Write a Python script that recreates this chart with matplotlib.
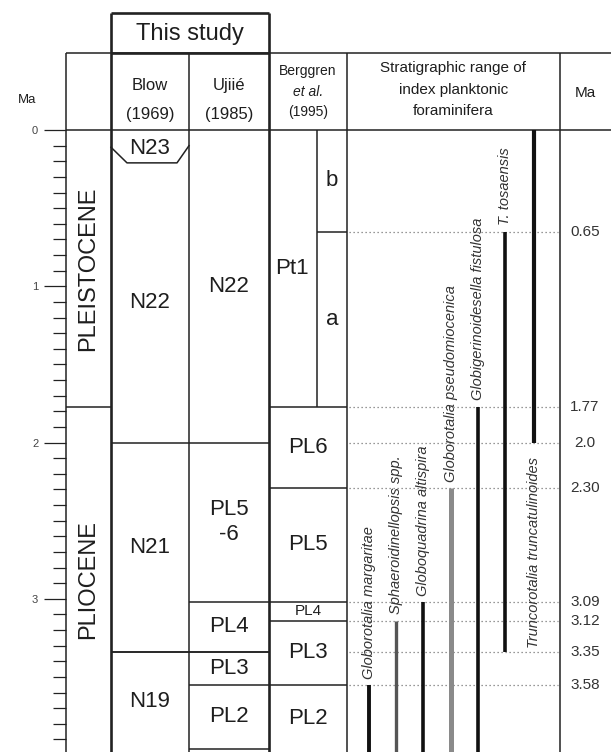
import matplotlib
matplotlib.use('Agg')
import matplotlib.pyplot as plt
import numpy as np

plt.rcParams['font.family'] = ['Liberation Sans', 'DejaVu Sans']

# ---------------- data (ages in Ma, as drawn) ----------------
epochs = ['PLEISTOCENE', 'PLIOCENE']
epoch_bounds = [0.0, 1.77, 3.98]

blow_zones = ['N23', 'N22', 'N21', 'N19']
blow_bounds = [0.0, 0.21, 2.0, 3.34, 3.98]

ujiie_zones = ['N22', 'PL5\n-6', 'PL4', 'PL3', 'PL2']
ujiie_bounds = [0.0, 2.0, 3.02, 3.34, 3.55, 3.96]

berggren_zones = ['Pt1', 'PL6', 'PL5', 'PL4', 'PL3', 'PL2']
berggren_bounds = [0.0, 1.77, 2.29, 3.02, 3.14, 3.55, 3.98]

pt1_subzones = ['b', 'a']
pt1_sub_bounds = [0.0, 0.65, 1.77]

species = ['Globorotalia margaritae', 'Sphaeroidinellopsis spp.',
           'Globoquadrina altispira', 'Globorotalia pseudomiocenica',
           'Globigerinoidesella fistulosa', 'T. tosaensis',
           'Truncorotalia truncatulinoides']
species_top = [3.55, 3.14, 3.02, 2.29, 1.77, 0.65, 0.0]
species_base = [3.98, 3.98, 3.98, 3.98, 3.98, 3.34, 2.0]

datum_labels = ['0.65', '1.77', '2.0', '2.30', '3.09', '3.12', '3.35', '3.58']
datum_ages = [0.65, 1.77, 2.0, 2.29, 3.02, 3.14, 3.34, 3.55]

age_ticks = [0, 1, 2, 3]
age_ticklabels = ['0', '1', '2', '3']

# ---------------- layout / style ----------------
W, H = 611, 752
Y0, PXMA = 130.0, 156.2          # pixel row of 0 Ma, pixels per Ma
def Y(py):
    return (py - Y0) / PXMA

x_ep0, x_ep1 = 66, 111
x_bl1 = 189
x_uj1 = 269
x_pt = 317
x_bg1 = 347
x_sr1 = 560
y_box_top, y_head_top = 13, 53

species_x = [369, 396, 423, 451, 478, 505, 534]
bar_colors = ['#111111', '#555555', '#111111', '#8a8a8a', '#111111', '#111111', '#111111']
bar_widths = [2.8, 2.4, 2.6, 3.6, 2.6, 2.6, 3.0]

LC = '#222222'
TC = '#1e1e1e'
thin, thick = 1.1, 1.9
zfs = 16

fig = plt.figure(figsize=(W / 100, H / 100), dpi=100)
ax = fig.add_axes([0, 0, 1, 1])
bottom = epoch_bounds[-1]
ax.set_xlim(0, W)
ax.set_ylim(bottom, Y(0))
ax.axis('off')

def hline(y, x0, x1, lw=thin, **kw):
    ax.plot([x0, x1], [y, y], color=LC, lw=lw, solid_capstyle='butt', **kw)

def vline(x, y0, y1, lw=thin, **kw):
    ax.plot([x, x], [y0, y1], color=LC, lw=lw, solid_capstyle='butt', **kw)

# frame lines
vline(x_ep0, Y(y_head_top), bottom)
vline(x_bl1, Y(y_head_top), bottom)
vline(x_bg1, Y(y_head_top), bottom)
vline(x_sr1, Y(y_head_top), bottom)
vline(x_ep1, Y(y_box_top), bottom, lw=thick)
vline(x_uj1, Y(y_box_top), bottom, lw=thick)
hline(Y(y_box_top), x_ep1, x_uj1, lw=thick)
hline(Y(y_head_top), x_ep0, W)
hline(Y(y_head_top), x_ep1, x_uj1, lw=thick)
hline(0.0, x_ep0, W)

# header text
ax.text((x_ep1 + x_uj1) / 2, Y(34), 'This study', ha='center', va='center', fontsize=17, color=TC)
ax.text((x_ep1 + x_bl1) / 2, Y(85), 'Blow', ha='center', va='center', fontsize=12, color=TC)
ax.text((x_ep1 + x_bl1) / 2, Y(114), '(1969)', ha='center', va='center', fontsize=12, color=TC)
ax.text((x_bl1 + x_uj1) / 2, Y(85), 'Ujiié', ha='center', va='center', fontsize=12, color=TC)
ax.text((x_bl1 + x_uj1) / 2, Y(114), '(1985)', ha='center', va='center', fontsize=12, color=TC)
xb = (x_uj1 + x_bg1) / 2
ax.text(xb, Y(71), 'Berggren', ha='center', va='center', fontsize=10, color=TC)
ax.text(xb, Y(92), 'et al.', ha='center', va='center', fontsize=10, color=TC, style='italic')
ax.text(xb, Y(112), '(1995)', ha='center', va='center', fontsize=10, color=TC)
xs = (x_bg1 + x_sr1) / 2
for txt, py in zip(['Stratigraphic range of', 'index planktonic', 'foraminifera'], [68, 90, 111]):
    ax.text(xs, Y(py), txt, ha='center', va='center', fontsize=11, color=TC)
ax.text(585, Y(93), 'Ma', ha='center', va='center', fontsize=11, color=TC)
ax.text(27, Y(100), 'Ma', ha='center', va='center', fontsize=9.5, color=TC)

# epoch column
for i, name in enumerate(epochs):
    t, b = epoch_bounds[i], epoch_bounds[i + 1]
    if i > 0:
        hline(t, x_ep0, x_ep1)
    ax.text((x_ep0 + x_ep1) / 2, (t + b) / 2, name, rotation=90, ha='center', va='center',
            fontsize=17, color=TC)

# Blow column
for i, name in enumerate(blow_zones):
    t, b = blow_bounds[i], blow_bounds[i + 1]
    if i == 1:
        # N23 / N22 notched boundary
        ax.plot([x_ep1, x_ep1 + 16, x_bl1 - 12, x_bl1], [t - 0.10, t, t, t - 0.11],
                color=LC, lw=thin)
    elif i > 1:
        hline(t, x_ep1, x_bl1)
    yc = (t + b) / 2 if i > 0 else 0.12
    ax.text((x_ep1 + x_bl1) / 2, yc, name, ha='center', va='center', fontsize=zfs, color=TC)

# Ujiie column
for i, name in enumerate(ujiie_zones):
    t, b = ujiie_bounds[i], ujiie_bounds[i + 1]
    if i > 0:
        hline(t, x_bl1, x_uj1)
    ax.text((x_bl1 + x_uj1) / 2, (t + b) / 2, name, ha='center', va='center',
            fontsize=zfs, color=TC, linespacing=1.25)
hline(ujiie_bounds[-1], x_bl1, x_uj1)
# N21/N19 line crosses Blow and Ujiie
hline(blow_bounds[3], x_ep1, x_uj1)

# Berggren column
for i, name in enumerate(berggren_zones):
    t, b = berggren_bounds[i], berggren_bounds[i + 1]
    if i > 0:
        hline(t, x_uj1, x_bg1)
    if i == 0:
        xc = (x_uj1 + x_pt) / 2 - 1
    else:
        xc = (x_uj1 + x_bg1) / 2
    fs = 11 if name == 'PL4' else zfs
    ax.text(xc, (t + b) / 2, name, ha='center', va='center', fontsize=fs, color=TC)

vline(x_pt, pt1_sub_bounds[0], pt1_sub_bounds[-1])
for i, name in enumerate(pt1_subzones):
    t, b = pt1_sub_bounds[i], pt1_sub_bounds[i + 1]
    if i > 0:
        hline(t, x_pt, x_bg1)
    ax.text((x_pt + x_bg1) / 2, (t + b) / 2, name, ha='center', va='center',
            fontsize=zfs, color=TC)

# datum dotted lines and right-hand labels
for lab, a in zip(datum_labels, datum_ages):
    ax.plot([x_bg1 + 2, x_sr1 - 2], [a, a], color='#777777', lw=0.9,
            linestyle=(0, (1, 2.2)))
    ax.text(585, a, lab, ha='center', va='center', fontsize=11, color='#333333')

# species ranges
gap = 0.04
for i, name in enumerate(species):
    x = species_x[i]
    ax.plot([x, x], [species_top[i], species_base[i]], color=bar_colors[i],
            lw=bar_widths[i], solid_capstyle='butt')
    if i == len(species) - 1:
        ax.text(x, species_base[i] + 0.09, name, rotation=90, ha='center', va='top',
                fontsize=10.5, style='italic', color='#333333')
    else:
        ax.text(x, species_top[i] - gap, name, rotation=90, ha='center', va='bottom',
                fontsize=10.5, style='italic', color='#333333')

# age scale ticks
axs = fig.add_axes([x_ep0 / W, 0, 0.0001, 1])
axs.set_ylim(bottom, Y(0))
for s in axs.spines.values():
    s.set_visible(False)
axs.set_xticks([])
axs.set_yticks(age_ticks)
axs.set_yticklabels(age_ticklabels)
axs.set_yticks(np.arange(0.1, 3.95, 0.1), minor=True)
axs.tick_params(axis='y', which='major', length=16, width=0.9, color=LC,
                labelsize=8, labelcolor='#444444', pad=4)
axs.tick_params(axis='y', which='minor', length=9.5, width=0.9, color=LC)
axs.patch.set_alpha(0)

fig.savefig('out.png', dpi=100)
